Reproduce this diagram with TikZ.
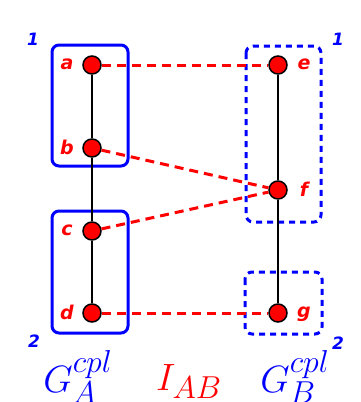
\documentclass[tikz,border=0pt]{standalone}
\usepackage{graphicx}
\usepackage{fontspec}
\newfontfamily\lblfont{DejaVu Sans}
\newcommand{\bigmath}[1]{\scalebox{1.53}{\Huge$#1$}}
\begin{document}
\begin{tikzpicture}[x=1pt,y=-1pt,
  vtx/.style={circle,fill=red,draw=black,line width=1.5pt,minimum size=18pt,inner sep=0pt},
  edge/.style={black,line width=2.6pt},
  link/.style={red,line width=3pt,dash pattern=on 9pt off 6pt},
  grp/.style={blue,line width=3pt,rounded corners=7pt},
  dgrp/.style={blue,line width=3pt,rounded corners=7pt,dash pattern=on 6pt off 5pt},
  vl/.style={text=red,font=\lblfont\bfseries\itshape\fontsize{19}{19}\selectfont},
  nl/.style={text=blue,font=\lblfont\bfseries\itshape\fontsize{17}{17}\selectfont},
  ml/.style={anchor=base,inner sep=0pt}]
\useasboundingbox (0,0) rectangle (360,402);
% groups
\draw[grp] (52,45) rectangle (128,166);
\draw[grp] (52,211) rectangle (128,333);
\draw[dgrp] (246,46) rectangle (321,222);
\draw[dgrp] (245,272) rectangle (322,334);
% vertices
\node[vtx] (a) at (92,65) {};
\node[vtx] (b) at (92,148) {};
\node[vtx] (c) at (92,231) {};
\node[vtx] (d) at (92,313) {};
\node[vtx] (e) at (278,65) {};
\node[vtx] (f) at (278,190) {};
\node[vtx] (g) at (278,313) {};
% edges
\draw[edge] (a) -- (b);
\draw[edge] (b) -- (c);
\draw[edge] (c) -- (d);
\draw[edge] (e) -- (f);
\draw[edge] (f) -- (g);
\draw[link] (a) -- (e);
\draw[link] (b) -- (f);
\draw[link] (c) -- (f);
\draw[link] (d) -- (g);
% labels
\node[vl] (la) at (67,64) {a};
\node[vl] (lb) at (67,147) {b};
\node[vl] (lc) at (67,230) {c};
\node[vl] (ld) at (67,312) {d};
\node[vl] (le) at (304,64) {e};
\node[vl] (lf) at (304,189) {f};
\node[vl] (lg) at (304,314) {g};
\node[nl] (n1l) at (33,39) {1};
\node[nl] (n1r) at (338,39) {1};
\node[nl] (n2l) at (34,341) {2};
\node[nl] (n2r) at (338,343) {2};
\node[ml,text=blue] (GA) at (78,392) {\bigmath{G_A^{cpl}}};
\node[ml,text=red] (IAB) at (189,390) {\bigmath{I_{AB}}};
\node[ml,text=blue] (GB) at (295,392) {\bigmath{G_B^{cpl}}};
\end{tikzpicture}
\end{document}
